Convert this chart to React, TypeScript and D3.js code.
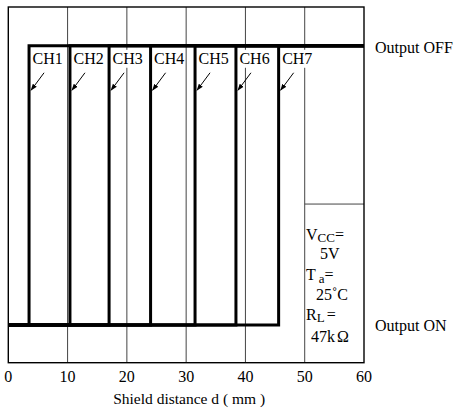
import React from 'react';
import * as d3 from 'd3';

// channel switching points
const channels = ['CH1', 'CH2', 'CH3', 'CH4', 'CH5', 'CH6', 'CH7'];
const switchDistances = [3.5, 10.4, 17.0, 24.0, 31.5, 38.4, 45.6];
const xTicks = [0, 10, 20, 30, 40, 50, 60];
const gridValues = [10, 20, 30, 40, 50];
const levelOn = 0.106;
const levelOff = 0.891;
const boxDivider = 0.446;

const width = 456;
const height = 408;
const font = '"Liberation Serif", "Times New Roman", serif';

export default function App(): React.ReactElement {
  const x = d3.scaleLinear().domain([0, 60]).range([8.3, 364]);
  const y = d3.scaleLinear().domain([0, 1]).range([362.7, 7]);

  const line = d3.line<[number, number]>()
    .x((p) => x(p[0]))
    .y((p) => y(p[1]));

  const yOff = y(levelOff);
  const yOn = y(levelOn);

  return (
    <svg
      width={width}
      height={height}
      style={{ position: 'absolute', left: 0, top: 0, background: '#fff' }}
      fontFamily={font}
    >
      <defs>
        <marker id="arrow" viewBox="0 0 10 10" refX="9" refY="5"
          markerWidth="7" markerHeight="7" orient="auto">
          <path d="M0,1.5 L10,5 L0,8.5 Z" fill="#000" />
        </marker>
      </defs>

      {/* grid */}
      {gridValues.map((v) => (
        <line key={v} x1={x(v)} x2={x(v)} y1={y(1)} y2={y(0)}
          stroke="#444" strokeWidth={1} />
      ))}
      <line x1={x(50)} x2={x(60)} y1={y(boxDivider)} y2={y(boxDivider)}
        stroke="#444" strokeWidth={1} />

      {/* frame */}
      <rect x={x(0)} y={y(1)} width={x(60) - x(0)} height={y(0) - y(1)}
        fill="none" stroke="#000" strokeWidth={1.4} />

      {/* channel labels with white backing */}
      {channels.map((c, i) => {
        const cx = x(switchDistances[i]);
        return (
          <g key={c}>
            <rect x={cx + 2.5} y={yOff + 4} width={31} height={18} fill="#fff" />
            <text x={cx + 3.5} y={yOff + 18.5} fontSize={16}>{c}</text>
            <line x1={cx + 15} y1={yOff + 27} x2={cx + 2} y2={yOff + 44.5}
              stroke="#000" strokeWidth={1} markerEnd="url(#arrow)" />
          </g>
        );
      })}

      {/* hysteresis curves */}
      {switchDistances.map((d, i) => (
        <path key={i}
          d={line([[0, levelOn], [d, levelOn], [d, levelOff], [60, levelOff]]) ?? ''}
          fill="none" stroke="#000" strokeWidth={3} strokeLinejoin="miter" />
      ))}

      {/* x tick labels */}
      {xTicks.map((t) => (
        <text key={t} x={x(t)} y={382} fontSize={16} textAnchor="middle">{t}</text>
      ))}
      <text x={(x(0) + x(60)) / 2 + 3} y={404} fontSize={15.5} textAnchor="middle">
        Shield distance d ( mm )
      </text>

      {/* output state labels */}
      <text x={375} y={yOff + 7} fontSize={16}>Output OFF</text>
      <text x={375} y={yOn + 6} fontSize={16}>Output ON</text>

      {/* conditions box */}
      <g fontSize={16}>
        <text x={306} y={240}>V<tspan fontSize={13} dy={2}>CC</tspan><tspan dy={-2}>=</tspan></text>
        <text x={320} y={258.5}>5V</text>
        <text x={306} y={280}>T<tspan fontSize={13} dx={3} dy={3}>a</tspan><tspan dy={-3}>=</tspan></text>
        <text x={316} y={300}>25˚C</text>
        <text x={306} y={320}>R<tspan fontSize={13} dy={2}>L</tspan><tspan dx={2} dy={-2}>=</tspan></text>
        <text x={311} y={341.5}>47k<tspan dx={2}>Ω</tspan></text>
      </g>
    </svg>
  );
}
